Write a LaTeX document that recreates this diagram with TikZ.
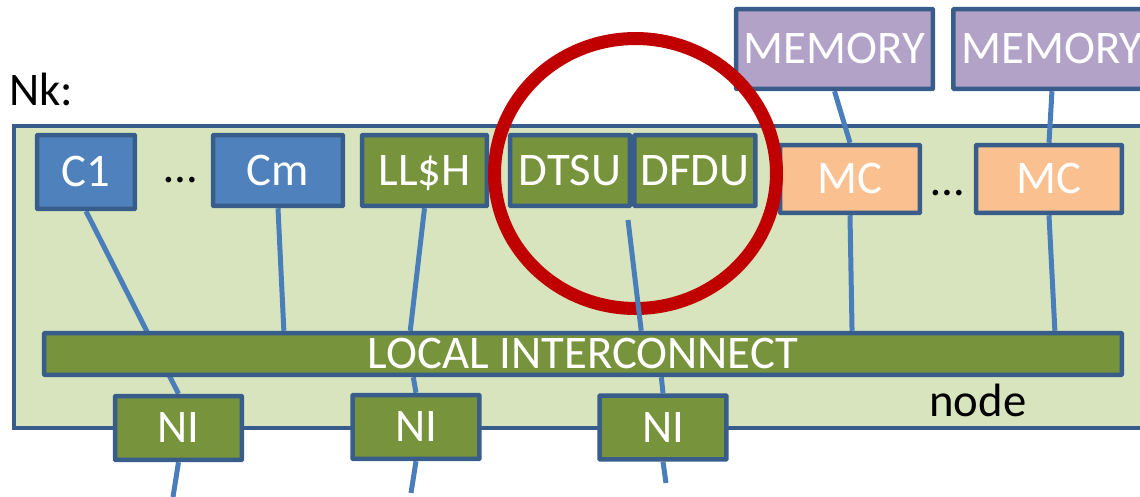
\documentclass[tikz,border=0pt]{standalone}
\usepackage{fontspec}
\setmainfont{Carlito}
\usepackage{tikz}
\usetikzlibrary{positioning,calc}
\definecolor{boxline}{RGB}{56,93,138}
\definecolor{coreblue}{RGB}{79,129,189}
\definecolor{unitgreen}{RGB}{119,147,60}
\definecolor{memlilac}{RGB}{179,162,199}
\definecolor{mcpeach}{RGB}{250,192,144}
\definecolor{nodefill}{RGB}{215,228,189}
\definecolor{wireblue}{RGB}{74,126,187}
\definecolor{ringred}{RGB}{192,0,0}
\pgfdeclarelayer{back}
\pgfdeclarelayer{wires}
\pgfsetlayers{back,wires,main}
\newcommand\diagfont{\fontsize{26.6pt}{32pt}\selectfont}

\begin{document}
\begin{tikzpicture}[x=0.02cm, y=-0.02cm,
  blk/.style={draw=boxline, line width=0.09cm, rounded corners=0.5pt, text=white, font=\diagfont,
    inner sep=0pt, text height=17pt, text depth=0pt},
  core/.style={blk, fill=coreblue, minimum height=1.42cm},
  unit/.style={blk, fill=unitgreen, minimum height=1.42cm},
  mem/.style={blk, fill=memlilac, minimum width=3.94cm, minimum height=1.6cm},
  mc/.style={blk, fill=mcpeach, minimum height=1.36cm},
  ni/.style={blk, fill=unitgreen, minimum width=2.54cm, minimum height=1.28cm},
  wire/.style={wireblue, line width=0.1cm},
  ring/.style={ringred, line width=0.26cm},
  lbl/.style={font=\diagfont, inner sep=0pt, anchor=base west},
  gap/.style={font=\diagfont, inner sep=0pt}]
\useasboundingbox (0,0) rectangle (1140,497);
\begin{pgfonlayer}{back}
  \node[draw=boxline, fill=nodefill, line width=0.09cm, minimum width=22.92cm, minimum height=6.04cm] (nk) at (587,277) {};
\end{pgfonlayer}
\node[lbl] (nklbl) at (9,105) {Nk:};
\node[lbl] (nodelbl) at (929,416) {node};

\node[core, minimum width=1.96cm, minimum height=1.48cm] (c1) at (86,172) {C1};
\node[gap] (dots1) at (181,180) {…};
\node[core, minimum width=2.6cm] (cm) at (278,170.5) {Cm};
\node[unit, minimum width=2.5cm] (llsh) at (424.5,170.5) {LL\$H};
\node[unit, minimum width=2.4cm] (dtsu) at (570,170.5) {DTSU};
\node[unit, minimum width=2.42cm, right=0pt of dtsu] (dfdu) {DFDU};
\node[mem] (mem1) at (834.5,49) {MEMORY};
\node[mem, right=0.32cm of mem1] (mem2) {MEMORY};
\node[mc, minimum width=2.8cm] (mc1) at (850,179) {MC};
\node[gap] (dots2) at (948,193) {…};
\node[mc, minimum width=2.92cm] (mc2) at (1049,179) {MC};
\node[blk, fill=unitgreen, minimum width=21.56cm, minimum height=0.84cm] (bar) at (583,354) {LOCAL INTERCONNECT};
\node[ni] (ni1) at (178.5,428) {NI};
\node[ni] (ni2) at (416,427) {NI};
\node[ni] (ni3) at (663,427.5) {NI};

\coordinate (out1) at (173,497);
\coordinate (out2) at (411,493);
\coordinate (out3) at (666,483);
\coordinate (dtap) at (628,220);

\begin{pgfonlayer}{wires}
  \draw[wire] (c1.south) -- (ni1.north);
  \draw[wire] (cm.south) -- ($(bar.north west)!0.2236!(bar.north east)$);
  \draw[wire] (llsh.south) -- ($(bar.north west)!0.3404!(bar.north east)$);
  \draw[wire] (mem1.south) -- (mc1.north);
  \draw[wire] (mem2.south) -- (mc2.north);
  \draw[wire] (mc1.south) -- ($(bar.north west)!0.7486!(bar.north east)$);
  \draw[wire] (mc2.south) -- ($(bar.north west)!0.936!(bar.north east)$);
  \draw[wire] ($(bar.south west)!0.3432!(bar.south east)$) -- (ni2.north);
  \draw[wire] ($(bar.south west)!0.5724!(bar.south east)$) -- (ni3.north);
  \draw[wire] (ni1.south) -- (out1);
  \draw[wire] (ni2.south) -- (out2);
  \draw[wire] (ni3.south) -- (out3);
\end{pgfonlayer}

\draw[ring] (635.5,173.5) ellipse [x radius=2.82cm, y radius=2.7cm];
\draw[wire] (dtap) -- ($(bar.north west)!0.5538!(bar.north east)$);
\end{tikzpicture}
\end{document}
